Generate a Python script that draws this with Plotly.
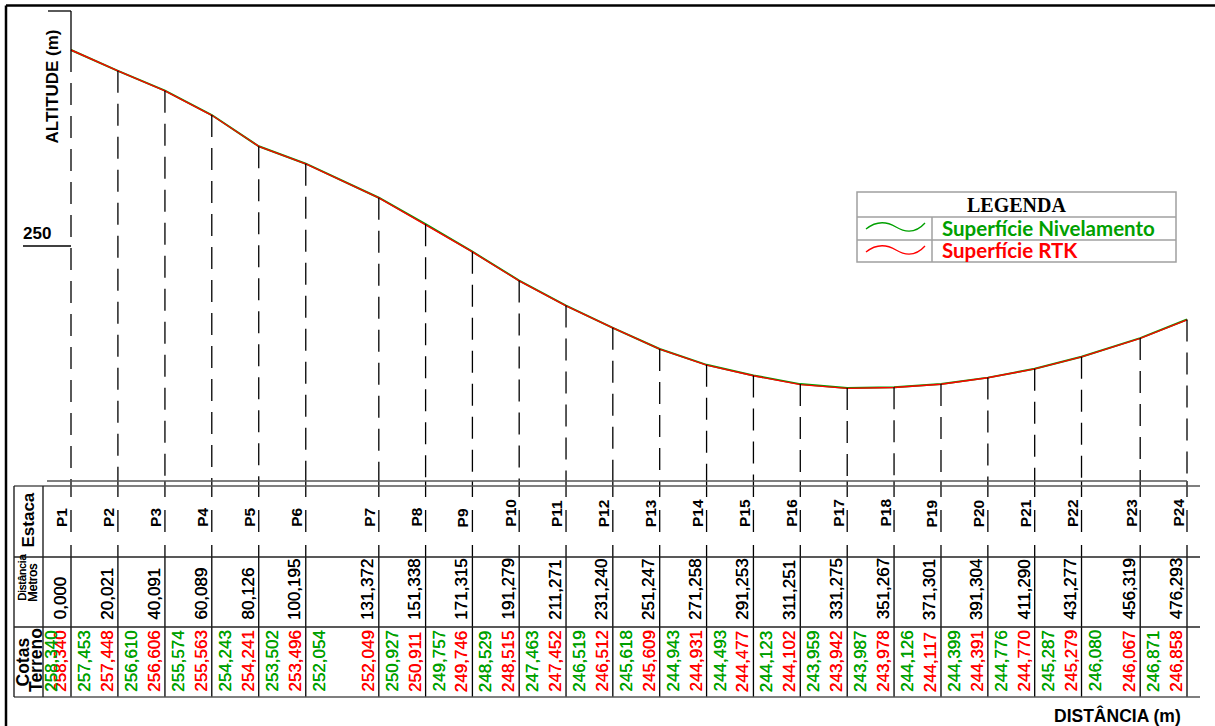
import plotly.graph_objects as go

# ---------------- data ----------------
estacas = ["P1", "P2", "P3", "P4", "P5", "P6", "P7", "P8", "P9", "P10", "P11", "P12",
           "P13", "P14", "P15", "P16", "P17", "P18", "P19", "P20", "P21", "P22", "P23", "P24"]
distancia = [0.000, 20.021, 40.091, 60.089, 80.126, 100.195, 131.372, 151.338, 171.315,
             191.279, 211.271, 231.240, 251.247, 271.258, 291.253, 311.251, 331.275,
             351.267, 371.301, 391.304, 411.290, 431.277, 456.319, 476.293]
cota_nivelamento = [258.340, 257.453, 256.610, 255.574, 254.243, 253.502, 252.054, 250.927,
                    249.757, 248.529, 247.463, 246.519, 245.618, 244.943, 244.493, 244.123,
                    243.959, 243.987, 244.126, 244.399, 244.776, 245.287, 246.080, 246.871]
cota_rtk = [258.340, 257.448, 256.606, 255.563, 254.241, 253.496, 252.049, 250.911,
            249.746, 248.515, 247.452, 246.512, 245.609, 244.931, 244.477, 244.102,
            243.942, 243.978, 244.117, 244.391, 244.770, 245.279, 246.067, 246.858]
y_tick_values = [250]
y_min, y_max = 240, 260

# ---------------- geometry / style ----------------
W, H = 1215, 726
X0_PX, X1_PX = 71, 1187          # pixel columns of first/last station
Y250_PX, Y240_PX = 246, 481      # pixel rows of altitude 250 and 240
kx = (X1_PX - X0_PX) / (distancia[-1] - distancia[0])
ky = (Y240_PX - Y250_PX) / 10.0
x_range = [distancia[0] - X0_PX / kx, distancia[0] + (W - X0_PX) / kx]
y_range = [250 - (H - Y250_PX) / ky, 250 + Y250_PX / ky]

GREEN = "#00a000"
RED = "#ff0000"
FONT = "Liberation Sans, Arial, sans-serif"


def xp(px):
    return px / W


def yp(py):
    return 1 - py / H


def fmt(v):
    return f"{v:.3f}".replace(".", ",")


def numfont(color, size=17):
    return dict(family=FONT, size=size, color=color, shadow=f"0.45px 0px 0px {color}")


fig = go.Figure()
fig.add_trace(go.Scatter(x=distancia, y=cota_nivelamento, mode="lines",
                         line=dict(color=GREEN, width=2), name="Superfície Nivelamento",
                         hoverinfo="skip"))
fig.add_trace(go.Scatter(x=distancia, y=cota_rtk, mode="lines",
                         line=dict(color=RED, width=1.4), name="Superfície RTK",
                         hoverinfo="skip"))

shapes = []
ann = []


def pline(x0, y0, x1, y1, color="black", width=1.3, dash=None):
    d = dict(type="line", xref="paper", yref="paper", x0=xp(x0), y0=yp(y0), x1=xp(x1), y1=yp(y1),
             line=dict(color=color, width=width))
    if dash:
        d["line"]["dash"] = dash
    shapes.append(d)


# outer frame (top & left)
pline(6, 5.5, W + 5, 5.5, width=2.5)
pline(6, 5.5, 6, H + 5, width=2.5)

# y axis line and ticks
shapes.append(dict(type="line", xref="x", yref="y", x0=distancia[0], x1=distancia[0],
                   y0=y_max, y1=cota_nivelamento[0], line=dict(color="black", width=1.3)))
pline(48, Y250_PX - (y_max - 250) * ky, X0_PX, Y250_PX - (y_max - 250) * ky, width=1.3)
for t in y_tick_values:
    pline(23, Y250_PX - (t - 250) * ky, X0_PX, Y250_PX - (t - 250) * ky, width=1.5)
    ann.append(dict(text=f"<b>{t}</b>", xref="paper", yref="y", x=xp(21), y=t, yshift=1.5,
                    xanchor="left", yanchor="bottom", showarrow=False,
                    font=dict(family=FONT, size=17, color="black")))

# station dashed lines
for d, c in zip(distancia, cota_nivelamento):
    shapes.append(dict(type="line", xref="x", yref="y", x0=d, x1=d, y0=c, y1=y_min,
                       line=dict(color="black", width=1.3, dash="22px,11px")))
    # continuation in the Estaca row
    for a, b in [(481, 497), (510, 532), (545, 557)]:
        shapes.append(dict(type="line", xref="x", yref="paper", x0=d, x1=d, y0=yp(a), y1=yp(b),
                           line=dict(color="black", width=1.3)))
    # solid lines in Distância & Cotas rows
    shapes.append(dict(type="line", xref="x", yref="paper", x0=d, x1=d, y0=yp(557), y1=yp(697),
                       line=dict(color="black", width=1.3)))

# table frame
pline(47, 481, X1_PX, 481, color="#555", width=1.6)
pline(14, 486, 1200, 486, color="#555", width=1.6)
pline(14, 557, 1200, 557, color="#222", width=1.4)
pline(14, 627, 1200, 627, color="#222", width=1.4)
pline(14, 697, 1200, 697, color="#555", width=1.6)
pline(14, 486, 14, 697, color="#222", width=1.4)
pline(43, 486, 43, 697, color="#222", width=1.4)

# row labels
ann.append(dict(text="<b>Estaca</b>", xref="paper", yref="paper", x=xp(27.5), y=yp(520),
                textangle=-90, showarrow=False, xanchor="center", yanchor="middle",
                font=dict(family=FONT, size=17, color="black")))
ann.append(dict(text="Distância", xref="paper", yref="paper", x=xp(21.5), y=yp(603),
                textangle=-90, showarrow=False, xanchor="center", yanchor="bottom",
                font=numfont("black", 11.3)))
ann.append(dict(text="Metros", xref="paper", yref="paper", x=xp(33), y=yp(604),
                textangle=-90, showarrow=False, xanchor="center", yanchor="bottom",
                font=numfont("black", 12.5)))
ann.append(dict(text="<b>Cotas</b>", xref="paper", yref="paper", x=xp(22.5), y=yp(662),
                textangle=-90, showarrow=False, xanchor="center", yanchor="middle",
                font=dict(family=FONT, size=17.5, color="black")))
ann.append(dict(text="<b>Terreno</b>", xref="paper", yref="paper", x=xp(36), y=yp(660),
                textangle=-90, showarrow=False, xanchor="center", yanchor="middle",
                font=dict(family=FONT, size=17.5, color="black")))

# station texts
for i, (p, d) in enumerate(zip(estacas, distancia)):
    ann.append(dict(text=f"<b>{p}</b>", xref="x", yref="paper", x=d, y=yp(529), xshift=1,
                    textangle=-90, showarrow=False, xanchor="right", yanchor="bottom",
                    font=dict(family=FONT, size=15.5, color="black")))
    ann.append(dict(text=fmt(d), xref="x", yref="paper", x=d, y=yp(622), xshift=0.5,
                    textangle=-90, showarrow=False, xanchor="right", yanchor="bottom",
                    font=numfont("black")))
    ann.append(dict(text=fmt(cota_rtk[i]), xref="x", yref="paper", x=d, y=yp(694), xshift=1,
                    textangle=-90, showarrow=False, xanchor="right", yanchor="bottom",
                    font=numfont(RED)))
    if i == 0:
        gx, gs = d, (43 - X0_PX) - 3
    else:
        gx, gs = distancia[i - 1], 2
    ann.append(dict(text=fmt(cota_nivelamento[i]), xref="x", yref="paper", x=gx, y=yp(694),
                    xshift=gs, textangle=-90, showarrow=False, xanchor="left", yanchor="bottom",
                    font=numfont(GREEN)))

# axis titles
ann.append(dict(text="<b>ALTITUDE (m)</b>", xref="paper", yref="paper", x=xp(52), y=yp(86.5),
                textangle=-90, showarrow=False, xanchor="center", yanchor="middle",
                font=dict(family=FONT, size=17, color="black")))
ann.append(dict(text="<b>DISTÂNCIA (m)</b>", xref="paper", yref="paper", x=xp(1117.5), y=yp(715),
                showarrow=False, xanchor="center", yanchor="middle",
                font=dict(family=FONT, size=17.5, color="black")))

# legend box
LG = "#a0a0a0"
shapes.append(dict(type="rect", xref="paper", yref="paper", x0=xp(857), x1=xp(1176),
                   y0=yp(192), y1=yp(262), line=dict(color=LG, width=1.5)))
pline(857, 217, 1176, 217, color=LG, width=1.5)
pline(857, 240, 1176, 240, color=LG, width=1.5)
pline(932, 217, 932, 262, color=LG, width=1.5)


def wave(cy, color):
    pts = [(866, cy + 2), (876, cy - 6), (886, cy - 6), (896, cy), (906, cy + 6),
           (916, cy + 6), (925, cy - 4)]
    s = f"M {xp(pts[0][0])},{yp(pts[0][1])} C {xp(pts[1][0])},{yp(pts[1][1])} " \
        f"{xp(pts[2][0])},{yp(pts[2][1])} {xp(pts[3][0])},{yp(pts[3][1])} " \
        f"C {xp(pts[4][0])},{yp(pts[4][1])} {xp(pts[5][0])},{yp(pts[5][1])} " \
        f"{xp(pts[6][0])},{yp(pts[6][1])}"
    shapes.append(dict(type="path", xref="paper", yref="paper", path=s,
                       line=dict(color=color, width=1.3)))


wave(227, GREEN)
wave(250, RED)
ann.append(dict(text="<b>LEGENDA</b>", xref="paper", yref="paper", x=xp(1016.5), y=yp(205),
                showarrow=False, xanchor="center", yanchor="middle",
                font=dict(family="Liberation Serif, Times New Roman, serif", size=20, color="black")))
ann.append(dict(text="<b>Superfície Nivelamento</b>", xref="paper", yref="paper", x=xp(940),
                y=yp(228), showarrow=False, xanchor="left", yanchor="middle",
                font=dict(family="Lato, Open Sans, sans-serif", size=20.5, color=GREEN)))
ann.append(dict(text="<b>Superfície RTK</b>", xref="paper", yref="paper", x=xp(940),
                y=yp(250), showarrow=False, xanchor="left", yanchor="middle",
                font=dict(family="Lato, Open Sans, sans-serif", size=20.5, color=RED)))

fig.update_layout(
    width=W, height=H, margin=dict(l=0, r=0, t=0, b=0),
    paper_bgcolor="white", plot_bgcolor="white", showlegend=False,
    xaxis=dict(range=x_range, visible=False, fixedrange=True),
    yaxis=dict(range=y_range, visible=False, fixedrange=True),
    shapes=shapes, annotations=ann,
)

fig.write_html("out.html", config={"displayModeBar": False},
               post_script="document.body.style.margin='0';"
                           "document.body.style.overflow='hidden';")
